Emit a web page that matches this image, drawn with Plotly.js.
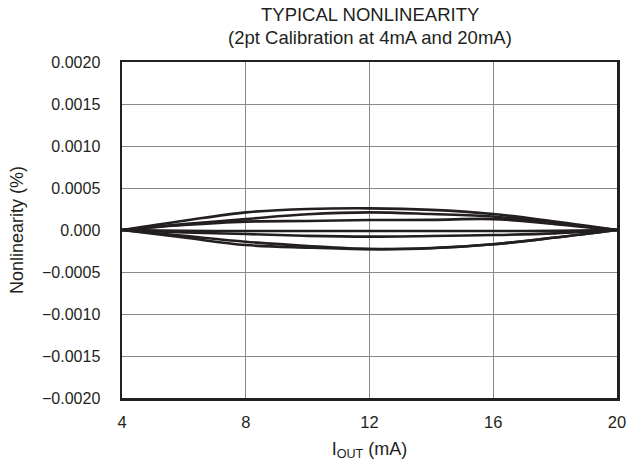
<!DOCTYPE html>
<html>
<head>
<meta charset="utf-8">
<script src="https://cdn.plot.ly/plotly-3.0.1.min.js"></script>
<style>html,body{margin:0;padding:0;background:#fff;}#chart{width:630px;height:469px;}</style>
</head>
<body>
<div id="chart"></div>
<script>
const iout = [4, 6, 8, 10, 12, 14, 16, 18, 20];
const curveA = [0, 0.00011, 0.00021, 0.00025, 0.000258, 0.00024, 0.00019, 0.00010, 0];
const curveB = [0, 0.00007, 0.00013, 0.000187, 0.00021, 0.00019, 0.00016, 0.00008, 0];
const curveC = [0, 0.00006, 0.00010, 0.000107, 0.000119, 0.00012, 0.00013, 0.00007, 0];
const curveD = [0, -0.00001, -0.000012, -0.000012, -0.000012, -0.000012, -0.000012, -0.00001, 0];
const curveE = [0, -0.00003, -0.000048, -0.00007, -0.000079, -0.000071, -0.00006, -0.00004, 0];
const curveF = [0, -0.00007, -0.000139, -0.00019, -0.000226, -0.000215, -0.00017, -0.00009, 0];
const curveG = [0, -0.00009, -0.000179, -0.00021, -0.000228, -0.000218, -0.00017, -0.00009, 0];
const yTickVals = [0.002, 0.0015, 0.001, 0.0005, 0, -0.0005, -0.001, -0.0015, -0.002];
const yTickText = ["0.0020", "0.0015", "0.0010", "0.0005", "0.000", "\u22120.0005", "\u22120.0010", "\u22120.0015", "\u22120.0020"];
const xTickVals = [4, 8, 12, 16, 20];

const curves = [curveA, curveB, curveC, curveD, curveE, curveF, curveG];
const lineColor = '#231f20';
const data = curves.map(c => ({
  x: iout, y: c, type: 'scatter', mode: 'lines',
  line: {color: lineColor, width: 2.6, shape: 'spline', smoothing: 1},
  hoverinfo: 'skip', showlegend: false
}));

const font = 'Liberation Sans, Arial, sans-serif';
const layout = {
  width: 630, height: 469,
  margin: {l: 122, r: 13, t: 62, b: 71},
  paper_bgcolor: '#fff', plot_bgcolor: '#fff',
  font: {family: font, color: '#231f20', size: 16},
  showlegend: false,
  xaxis: {
    range: [4, 20], tickvals: xTickVals, ticktext: xTickVals.map(String),
    showgrid: true, gridcolor: '#8a8a8a', gridwidth: 1,
    zeroline: false, showline: true, mirror: true, linecolor: '#231f20', linewidth: 2.5,
    ticks: '', ticklabelstandoff: 8,
    tickfont: {family: font, size: 16.5, color: '#231f20'},
    title: {text: 'I<sub>OUT</sub> (mA)', font: {family: font, size: 18, color: '#231f20'}, standoff: 12}
  },
  yaxis: {
    range: [-0.002, 0.002], tickvals: yTickVals, ticktext: yTickText,
    showgrid: true, gridcolor: '#8a8a8a', gridwidth: 1,
    zeroline: false, showline: true, mirror: true, linecolor: '#231f20', linewidth: 2.5,
    ticks: '', ticklabelstandoff: 16,
    tickfont: {family: font, size: 16, color: '#231f20'},
    title: {text: 'Nonlinearity (%)', font: {family: font, size: 18, color: '#231f20'}, standoff: 14}
  },
  annotations: [
    {text: 'TYPICAL NONLINEARITY', xref: 'paper', yref: 'paper', x: 0.5, y: (398 - 14) / 336,
     xanchor: 'center', yanchor: 'middle', showarrow: false, font: {family: font, size: 18.5, color: '#231f20'}},
    {text: '(2pt Calibration at 4mA and 20mA)', xref: 'paper', yref: 'paper', x: 0.5, y: (398 - 37) / 336,
     xanchor: 'center', yanchor: 'middle', showarrow: false, font: {family: font, size: 18.5, color: '#231f20'}}
  ]
};
Plotly.newPlot('chart', data, layout, {staticPlot: true, displayModeBar: false});
</script>
</body>
</html>
